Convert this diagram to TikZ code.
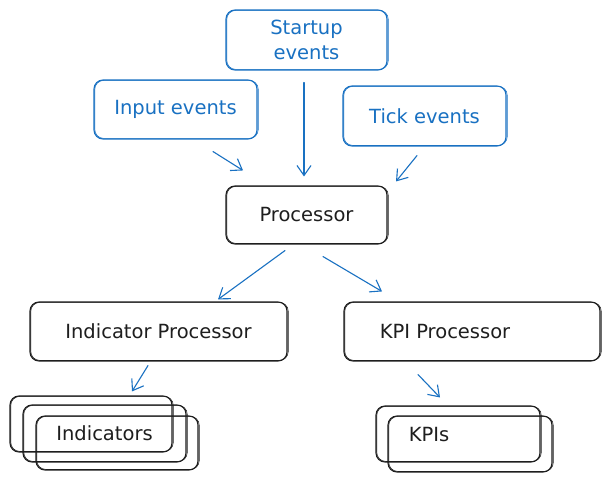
\documentclass[tikz,border=0pt]{standalone}
\usepackage{fontspec}
\setmainfont{DejaVu Sans}
\usetikzlibrary{arrows.meta}
\definecolor{skblue}{HTML}{1971C2}
\definecolor{skblack}{HTML}{1E1E1E}
\newcommand\skdbl[2]{\draw[#2, line width=0.6pt, rounded corners=9pt] ([shift={(1.3,0.9)}]#1.north west) rectangle ([shift={(0.7,-1.1)}]#1.south east);}
\begin{document}
\begin{tikzpicture}[x=1pt,y=-1pt,
  box/.style={draw=skblack, line width=1.1pt, rounded corners=9pt, inner sep=0pt, text=skblack, font=\fontsize{19.5}{25}\selectfont, align=center},
  bbox/.style={box, draw=skblue, text=skblue},
  lbl/.style={inner sep=0pt, text=skblack, font=\fontsize{19.5}{25}\selectfont},
  arr/.style={draw=skblue, line width=1.1pt, line cap=round, -{Straight Barb[length=10pt,width=14pt,line width=1.1pt]}}]
\useasboundingbox[fill=white] (0,0) rectangle (609,481);

% event sources
\node[bbox, minimum width=161pt, minimum height=60pt] (startup) at (306.5,40) {Startup\\events};
\node[bbox, minimum width=163pt, minimum height=59pt] (input) at (175.5,109.5) {Input events};
\node[bbox, minimum width=163pt, minimum height=60pt] (tick) at (424.5,116) {Tick events};
\skdbl{startup}{skblue}
\skdbl{input}{skblue}
\skdbl{tick}{skblue}

% processors
\node[box, minimum width=161pt, minimum height=58pt] (proc) at (306.5,215) {Processor};
\node[box, minimum width=257pt, minimum height=59pt] (indp) at (158.5,331.5) {Indicator Processor};
\node[box, minimum width=256pt, minimum height=59pt] (kpip) at (472,331.5) {};
\node[lbl] (kpiplbl) at (445,332) {KPI Processor};
\skdbl{proc}{skblack}
\skdbl{indp}{skblack}
\skdbl{kpip}{skblack}

% indicators stack
\node[box, minimum width=162pt, minimum height=56pt] (indA) at (91,424) {};
\node[box, minimum width=163pt, minimum height=57pt] (indB) at (104.5,433.5) {Indicators};
\node[box, minimum width=162pt, minimum height=54pt] (indC) at (117,443) {};
\skdbl{indA}{skblack}
\skdbl{indB}{skblack}
\skdbl{indC}{skblack}

% KPIs stack
\node[box, minimum width=164pt, minimum height=56pt] (kpiA) at (458,434) {};
\node[box, minimum width=164pt, minimum height=56pt] (kpiB) at (470,444) {};
\node[lbl] (kpislbl) at (429,435) {KPIs};
\skdbl{kpiA}{skblack}
\skdbl{kpiB}{skblack}

% arrows
\draw[arr] ([shift={(37.5,12)}]input.south) -- ([shift={(-63.5,-15)}]proc.north);
\draw[arr] ([shift={(-2.5,12)}]startup.south) -- ([shift={(-2.5,-9)}]proc.north);
\draw[arr] ([shift={(-7.5,9)}]tick.south) -- ([shift={(89.5,-4)}]proc.north);
\draw[arr] ([shift={(-21.5,6)}]proc.south) -- ([shift={(59.5,-2)}]indp.north);
\draw[arr] ([shift={(16.5,12)}]proc.south) -- ([shift={(-90,-10)}]kpip.north);
\draw[arr] ([shift={(-10.5,4)}]indp.south) -- ([shift={(41,-4)}]indA.north);
\draw[arr] ([shift={(-54,13)}]kpip.south) -- ([shift={(-18,-8)}]kpiA.north);
\end{tikzpicture}
\end{document}
